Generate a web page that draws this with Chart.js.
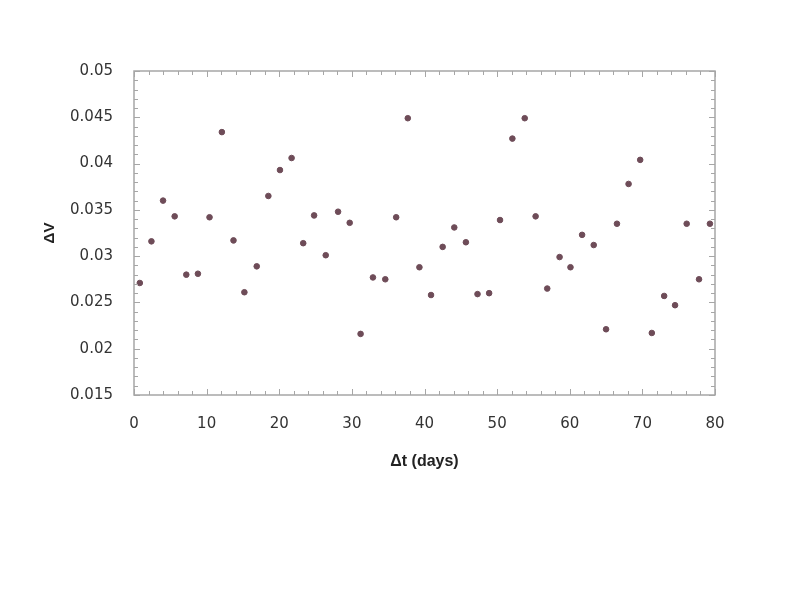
<!DOCTYPE html>
<html>
<head>
<meta charset="utf-8">
<script src="https://cdn.jsdelivr.net/npm/chart.js@4/dist/chart.umd.min.js"></script>
<style>
  html, body { margin: 0; padding: 0; background: #fff; }
  #wrap { width: 794px; height: 595px; }
</style>
</head>
<body>
<div id="wrap"><canvas id="dvChart"></canvas></div>
<script>
// time lag (days) and magnitude difference
const lagDays = [0.8, 2.4, 4.0, 5.6, 7.2, 8.8, 10.4, 12.1, 13.7, 15.2,
  16.9, 18.5, 20.1, 21.7, 23.3, 24.8, 26.4, 28.1, 29.7, 31.2,
  32.9, 34.6, 36.1, 37.7, 39.3, 40.9, 42.5, 44.1, 45.7, 47.3,
  48.9, 50.4, 52.1, 53.8, 55.3, 56.9, 58.6, 60.1, 61.7, 63.3,
  65.0, 66.5, 68.1, 69.7, 71.3, 73.0, 74.5, 76.1, 77.8, 79.3];
const deltaV = [0.0271, 0.0316, 0.0360, 0.0343, 0.0280, 0.0281, 0.0342, 0.0434, 0.0317, 0.0261,
  0.0289, 0.0365, 0.0393, 0.0406, 0.0314, 0.0344, 0.0301, 0.0348, 0.0336, 0.0216,
  0.0277, 0.0275, 0.0342, 0.0449, 0.0288, 0.0258, 0.0310, 0.0331, 0.0315, 0.0259,
  0.0260, 0.0339, 0.0427, 0.0449, 0.0343, 0.0265, 0.0299, 0.0288, 0.0323, 0.0312,
  0.0221, 0.0335, 0.0378, 0.0404, 0.0217, 0.0257, 0.0247, 0.0335, 0.0275, 0.0335];

const xTicks = [0, 10, 20, 30, 40, 50, 60, 70, 80];
const yTicks = [0.015, 0.02, 0.025, 0.03, 0.035, 0.04, 0.045, 0.05];

const points = lagDays.map((d, i) => ({ x: d, y: deltaV[i] }));

// frame with inward tick marks on all four sides
const framePlugin = {
  id: 'frame',
  afterDatasetsDraw(chart) {
    const { ctx, chartArea: a, scales } = chart;
    ctx.save();
    ctx.strokeStyle = '#a6a6a6';
    ctx.lineWidth = 1;
    ctx.beginPath();
    for (let v = 0; v <= 80; v += 2) {
      const px = Math.round(scales.x.getPixelForValue(v)) + 0.5;
      const len = v % 10 === 0 ? 6 : 4;
      ctx.moveTo(px, a.bottom); ctx.lineTo(px, a.bottom - len);
      ctx.moveTo(px, a.top); ctx.lineTo(px, a.top + len);
    }
    for (let k = 15; k <= 50; k++) {
      const py = Math.round(scales.y.getPixelForValue(k / 1000)) + 0.5;
      const len = k % 5 === 0 ? 6 : 4;
      ctx.moveTo(a.left, py); ctx.lineTo(a.left + len, py);
      ctx.moveTo(a.right, py); ctx.lineTo(a.right - len, py);
    }
    ctx.stroke();
    ctx.lineWidth = 1.5;
    ctx.strokeRect(a.left, a.top, a.right - a.left, a.bottom - a.top);
    ctx.restore();
  }
};

new Chart(document.getElementById('dvChart'), {
  type: 'scatter',
  data: {
    datasets: [{
      label: 'ΔV',
      data: points,
      backgroundColor: '#6e4c58',
      borderColor: '#6e4c58',
      pointRadius: 2.8,
      pointHoverRadius: 3
    }]
  },
  options: {
    responsive: true,
    maintainAspectRatio: false,
    animation: false,
    layout: { padding: { left: 41, top: 71, right: 79, bottom: 120 } },
    plugins: {
      legend: { display: false },
      tooltip: { enabled: false }
    },
    scales: {
      x: {
        type: 'linear',
        min: 0,
        max: 80,
        afterFit(scale) { scale.height = 80; },
        afterBuildTicks(scale) { scale.ticks = xTicks.map(v => ({ value: v })); },
        grid: { display: false },
        border: { display: false },
        ticks: {
          padding: 12,
          color: '#333',
          font: { family: 'DejaVu Sans', size: 15 }
        },
        title: {
          display: true,
          text: 'Δt (days)',
          color: '#222',
          padding: { top: 10 },
          font: { family: 'Liberation Sans', size: 16, weight: 'bold' }
        }
      },
      y: {
        type: 'linear',
        min: 0.015,
        max: 0.05,
        afterFit(scale) { scale.width = 93; },
        afterBuildTicks(scale) { scale.ticks = yTicks.map(v => ({ value: v })); },
        grid: { display: false },
        border: { display: false },
        ticks: {
          padding: 13,
          color: '#333',
          font: { family: 'DejaVu Sans', size: 15 },
          callback: v => String(+v.toFixed(3))
        },
        title: {
          display: true,
          text: 'ΔV',
          color: '#222',
          padding: 0,
          font: { family: 'Liberation Sans', size: 15, weight: 'bold' }
        }
      }
    }
  },
  plugins: [framePlugin]
});
</script>
</body>
</html>
